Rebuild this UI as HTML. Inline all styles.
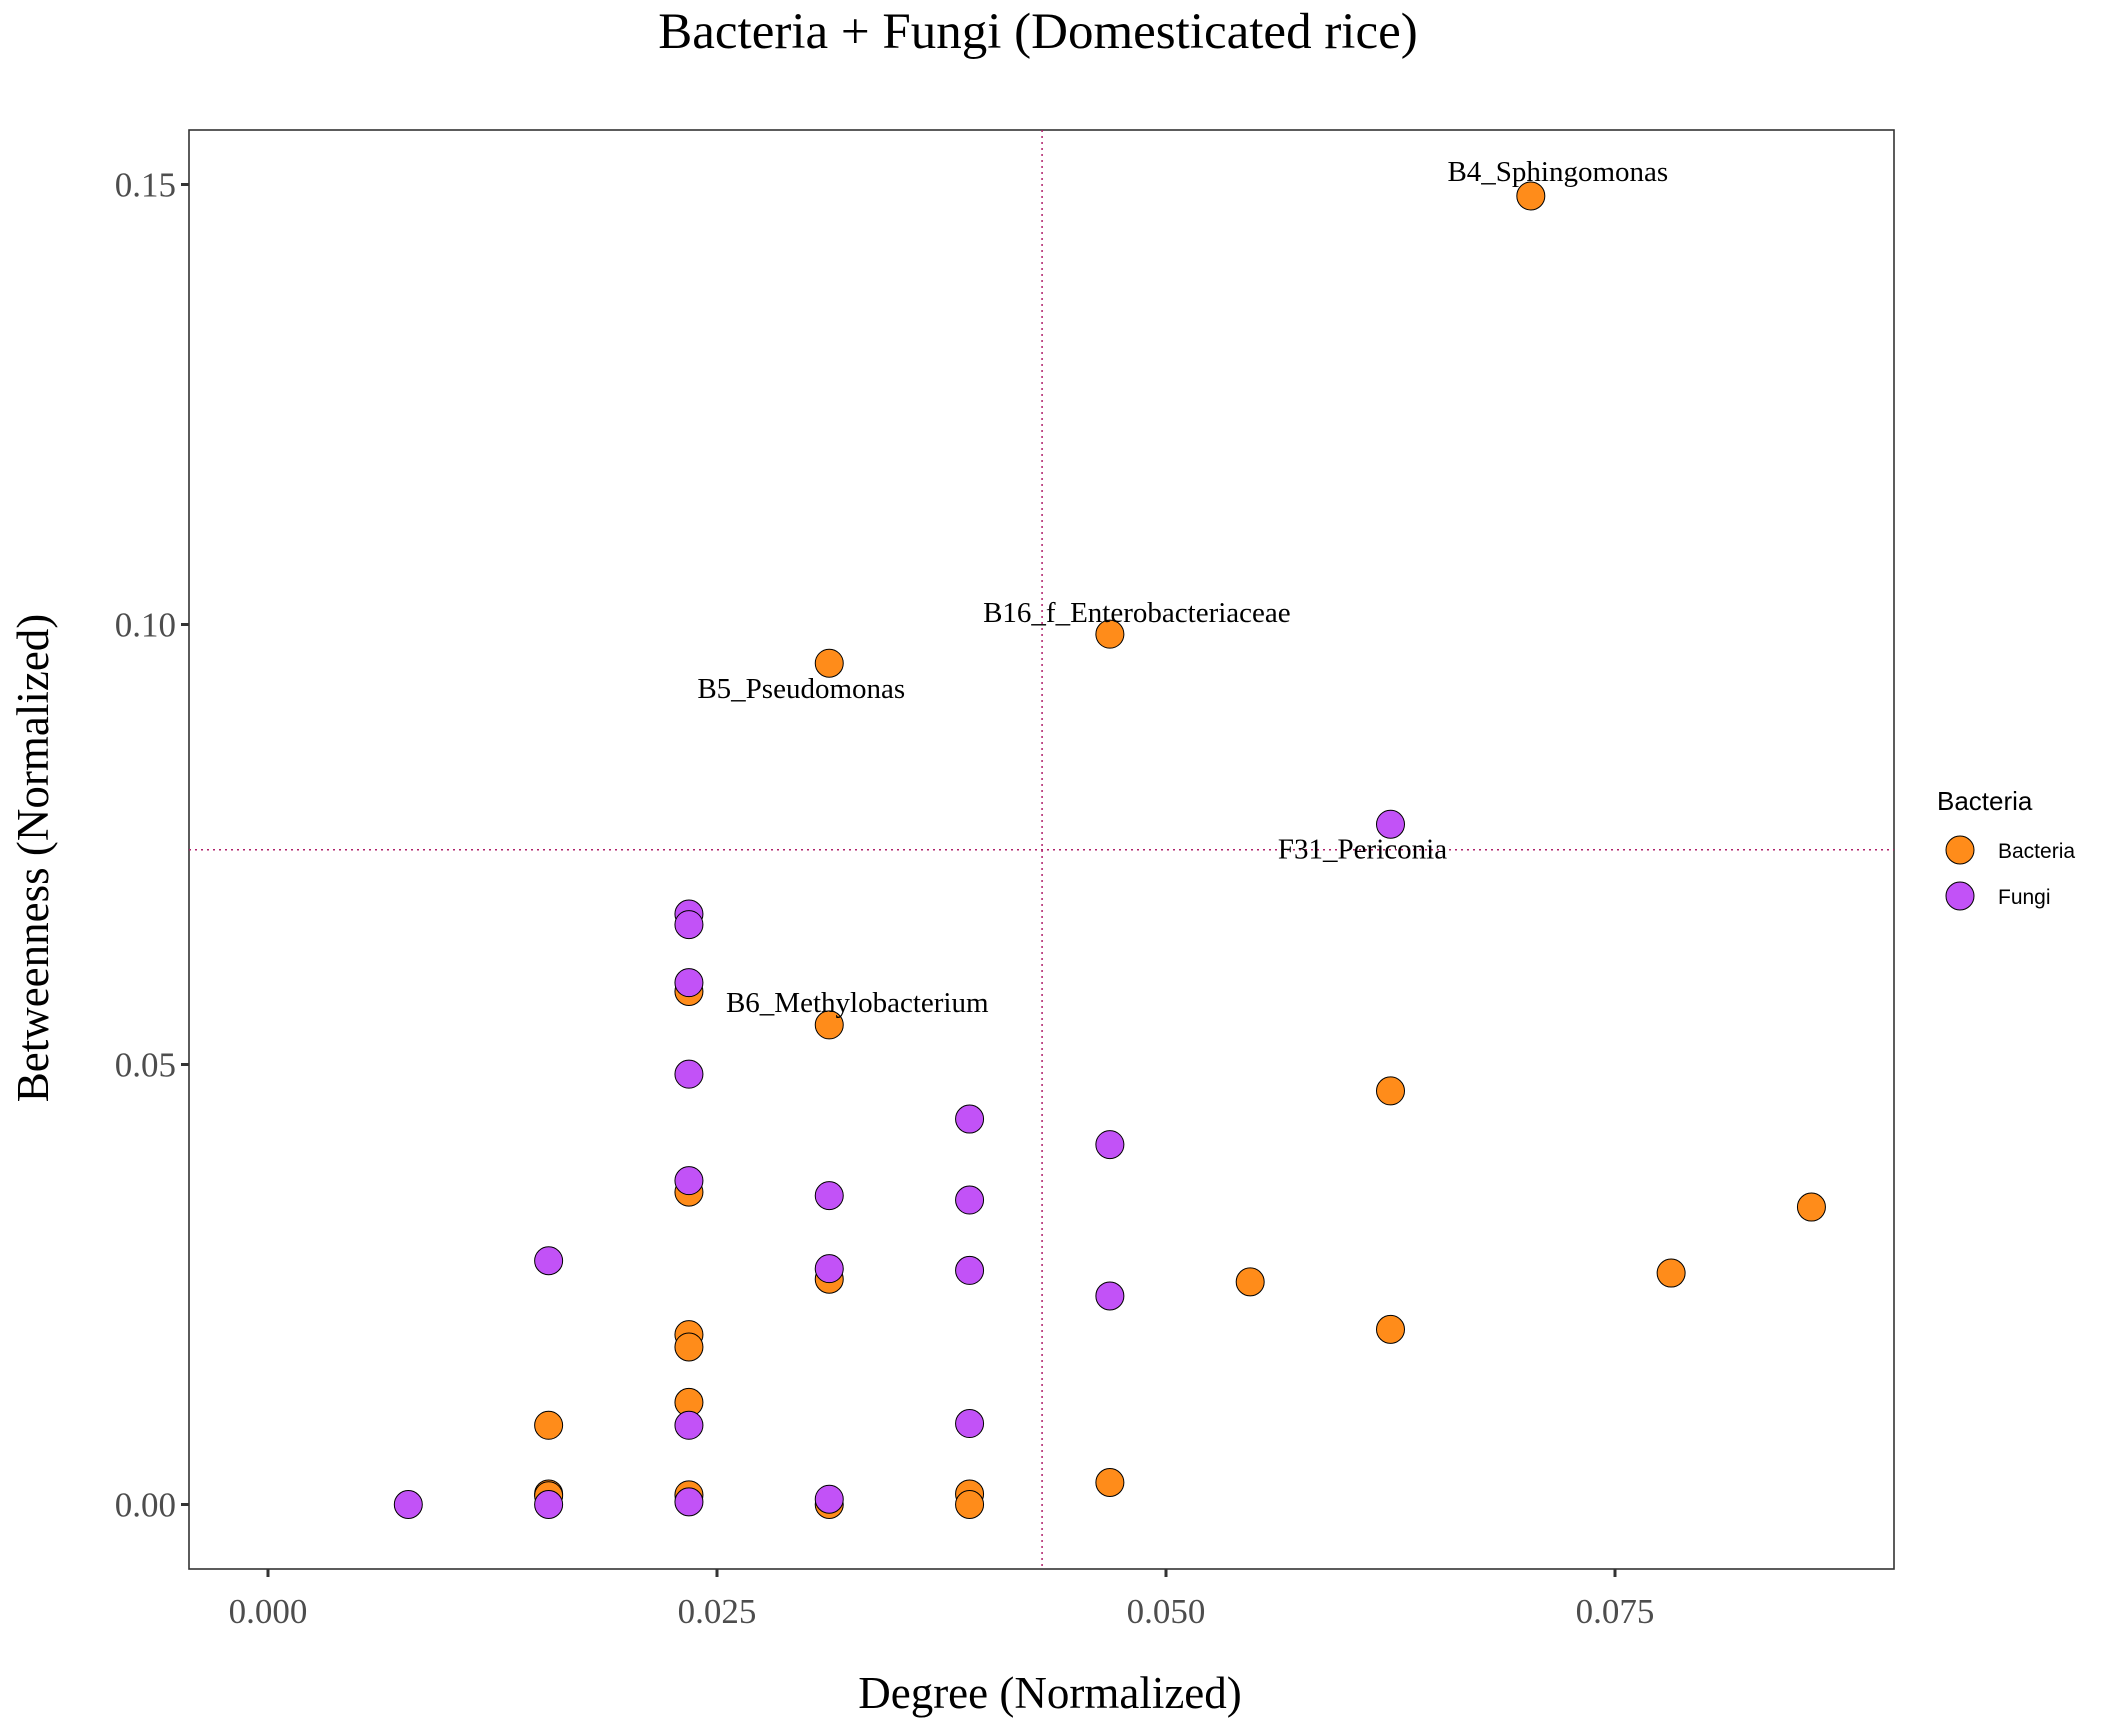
<!DOCTYPE html>
<html><head><meta charset="utf-8"><style>
html,body{margin:0;padding:0;background:#fff;}
svg text{font-family:"Liberation Serif",serif;}
</style></head><body>
<svg id="chart" width="2112" height="1728" viewBox="0 0 2112 1728" xmlns="http://www.w3.org/2000/svg">
<rect width="2112" height="1728" fill="#fff"/>
<text x="1038" y="48" font-size="51" text-anchor="middle">Bacteria + Fungi (Domesticated rice)</text>
<rect x="189" y="130" width="1705" height="1439" fill="none" stroke="#333" stroke-width="1.6"/>
<g id="axes"></g>
<g id="reflines"></g>
<g id="points"></g>
<g id="labels"></g>
<text x="1050" y="1708" font-size="45" text-anchor="middle">Degree (Normalized)</text>
<text transform="translate(48,858) rotate(-90)" font-size="45" text-anchor="middle">Betweenness (Normalized)</text>
<g>
<text x="1937" y="810" font-size="26" style="font-family:'Liberation Sans',sans-serif">Bacteria</text>
<circle cx="1960" cy="850" r="14" fill="#FF8C1A" stroke="#000" stroke-width="1"/>
<text x="1998" y="858" font-size="21" style="font-family:'Liberation Sans',sans-serif">Bacteria</text>
<circle cx="1960" cy="896" r="14" fill="#C252F7" stroke="#000" stroke-width="1"/>
<text x="1998" y="904" font-size="21" style="font-family:'Liberation Sans',sans-serif">Fungi</text>
</g>
</svg>
<script>
const xTicks = [0, 0.025, 0.05, 0.075];
const xTickLabels = ["0.000", "0.025", "0.050", "0.075"];
const yTicks = [0, 0.05, 0.10, 0.15];
const yTickLabels = ["0.00", "0.05", "0.10", "0.15"];
const bactX = [9,6,4,3,4,8,3,11,4,10,7,8,3,3,3,2,6,2,2,3,4,5,5].map(k=>k/128);
const bactY = [0.1487,0.0989,0.0956,0.0583,0.0545,0.0470,0.0355,0.0338,0.0256,0.0263,0.0253,0.0199,0.0193,0.0179,0.0116,0.0090,0.0025,0.0012,0.0010,0.0011,0.0000,0.0012,0.0000];
const fungiX = [8,3,3,3,3,5,6,3,4,5,2,4,5,6,3,5,1,2,3,4].map(k=>k/128);
const fungiY = [0.0773,0.0671,0.0659,0.0593,0.0489,0.0438,0.0409,0.0368,0.0351,0.0346,0.0277,0.0268,0.0266,0.0237,0.0090,0.0092,0.0000,0.0000,0.0003,0.0006];
const labelNames = ["B4_Sphingomonas","B16_f_Enterobacteriaceae","B5_Pseudomonas","F31_Periconia","B6_Methylobacterium"];
const labelX = [9/128, 6/128, 4/128, 8/128, 4/128];
const labelY = [0.1487, 0.0989, 0.0956, 0.0773, 0.0545];
const labelDx = [27, 27, -28, -28, 28];
const labelDy = [-15, -12, 35, 34, -13];
const vRef = 0.0431;
const hRef = 0.0744;

const NS="http://www.w3.org/2000/svg";
const sx = v => 268 + v/0.025*449;
const sy = v => 1504.5 - v/0.05*440;
function mk(tag, attrs, parent){const e=document.createElementNS(NS,tag);for(const k in attrs)e.setAttribute(k,attrs[k]);parent.appendChild(e);return e;}
const axes=document.getElementById('axes');
xTicks.forEach((t,i)=>{
  const l=mk('line',{x1:sx(t),x2:sx(t),y1:1569,y2:1577,stroke:'#333','stroke-width':3},axes);
  
  
  const tx=mk('text',{x:sx(t),y:1623,'font-size':35,'text-anchor':'middle',fill:'#4d4d4d'},axes);
  tx.textContent=xTickLabels[i];
  
  
});
yTicks.forEach((t,i)=>{
  const l=mk('line',{x1:181,x2:189,y1:sy(t),y2:sy(t),stroke:'#333','stroke-width':3},axes);
  
  
  const tx=mk('text',{x:176,y:sy(t)+12,'font-size':35,'text-anchor':'end',fill:'#4d4d4d'},axes);
  tx.textContent=yTickLabels[i];
  
  
});
const ref=document.getElementById('reflines');
const vl=mk('line',{x1:sx(vRef),x2:sx(vRef),y1:130,y2:1569,stroke:'#B0206A','stroke-width':1.5,'stroke-dasharray':'2,4'},ref);


const hl=mk('line',{x1:189,x2:1894,y1:sy(hRef),y2:sy(hRef),stroke:'#B0206A','stroke-width':1.5,'stroke-dasharray':'2,4'},ref);


const pts=document.getElementById('points');
bactX.forEach((x,i)=>{
  const c=mk('circle',{cx:sx(x),cy:sy(bactY[i]),r:14,fill:'#FF8C1A',stroke:'#000','stroke-width':1},pts);
  
  
});
fungiX.forEach((x,i)=>{
  const c=mk('circle',{cx:sx(x),cy:sy(fungiY[i]),r:14,fill:'#C252F7',stroke:'#000','stroke-width':1},pts);
  
  
});
const lab=document.getElementById('labels');
labelNames.forEach((n,i)=>{
  const t=mk('text',{x:sx(labelX[i])+labelDx[i],y:sy(labelY[i])+labelDy[i],'font-size':29,'text-anchor':'middle'},lab);
  t.textContent=n;
  
  
});
</script>
</body></html>
